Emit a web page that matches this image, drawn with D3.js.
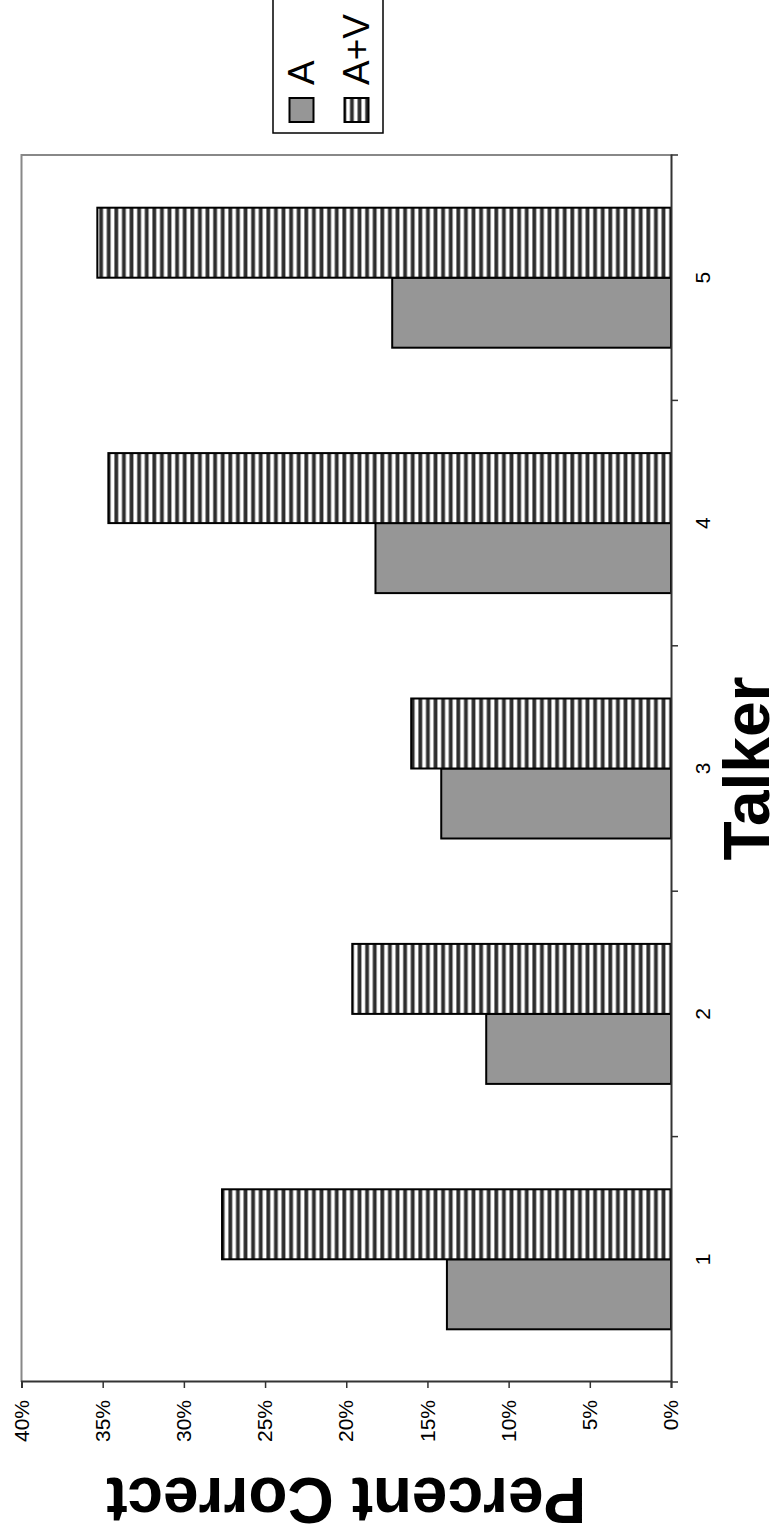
<!DOCTYPE html>
<html>
<head>
<meta charset="utf-8">
<script src="https://cdn.jsdelivr.net/npm/d3@7"></script>
<style>
  html, body { margin: 0; padding: 0; background: #fff; }
  svg { display: block; }
  text { font-family: "Liberation Sans", Arial, sans-serif; }
</style>
</head>
<body>
<svg id="chart" width="779" height="1536"></svg>
<script>
// ---- data ----
const categories = ["1", "2", "3", "4", "5"];
const seriesNames = ["A", "A+V"];
const valuesA  = [0.138, 0.1138, 0.1415, 0.182, 0.1717];
const valuesAV = [0.2765, 0.1963, 0.160, 0.3465, 0.3533];
const valueTicks = [0, 0.05, 0.10, 0.15, 0.20, 0.25, 0.30, 0.35, 0.40];
const xTitle = "Talker";
const yTitle = "Percent Correct";

// ---- layout (drawn in landscape, then rotated -90deg onto the portrait page) ----
const W = 1536, H = 779;
const plot = { left: 154, right: 1381, top: 21.5, bottom: 671 };

const svg = d3.select("#chart");
const defs = svg.append("defs");
const pat = defs.append("pattern")
  .attr("id", "stripes")
  .attr("patternUnits", "userSpaceOnUse")
  .attr("width", 10).attr("height", 7.6);
pat.append("rect").attr("width", 10).attr("height", 7.6).attr("fill", "#fff");
pat.append("rect").attr("y", 0.4).attr("width", 10).attr("height", 3.8).attr("fill", "#2e2e2e");

const g = svg.append("g").attr("transform", `translate(0,${W}) rotate(-90)`);

const p = 0.4295;
const x = d3.scaleBand().domain(categories)
  .range([plot.left, plot.right]).paddingInner(p).paddingOuter(p / 2);
const xs = d3.scaleBand().domain(seriesNames).range([0, x.bandwidth()]);
const y = d3.scaleLinear().domain([0, 0.4]).range([plot.bottom, plot.top]);

// plot area border (right & top, gray)
g.append("path")
  .attr("d", `M${plot.left},${plot.top}H${plot.right}V${plot.bottom}`)
  .attr("fill", "none").attr("stroke", "#888").attr("stroke-width", 2);

// bars
const rows = categories.map((c, i) => ({ c, A: valuesA[i], AV: valuesAV[i] }));
const fills = { "A": "#969696", "A+V": "url(#stripes)" };
rows.forEach(r => {
  [["A", r.A], ["A+V", r.AV]].forEach(([s, v]) => {
    g.append("rect")
      .attr("x", x(r.c) + xs(s))
      .attr("width", xs.bandwidth())
      .attr("y", y(v))
      .attr("height", y(0) - y(v))
      .attr("fill", fills[s])
      .attr("stroke", "#000")
      .attr("stroke-width", 2);
  });
});

// value axis (left in landscape)
const yAxis = d3.axisLeft(y).tickValues(valueTicks)
  .tickFormat(d3.format(".0%")).tickSize(6).tickPadding(12);
const ya = g.append("g").attr("transform", `translate(${plot.left},0)`).call(yAxis);
ya.select(".domain").attr("stroke", "#333").attr("stroke-width", 2);
ya.selectAll(".tick line").attr("stroke", "#333").attr("stroke-width", 1.5);
ya.selectAll(".tick text").attr("font-size", 21).attr("fill", "#000")
  .attr("font-family", "'Liberation Sans', Arial, sans-serif");

// category axis (bottom in landscape)
const xAxis = d3.axisBottom(x).tickSize(0).tickPadding(24);
const xa = g.append("g").attr("transform", `translate(0,${plot.bottom})`).call(xAxis);
xa.select(".domain").attr("stroke", "#333").attr("stroke-width", 2);
xa.selectAll(".tick text").attr("font-size", 21).attr("fill", "#000")
  .attr("font-family", "'Liberation Sans', Arial, sans-serif");
const step = x.step();
d3.range(categories.length + 1).forEach(i => {
  const bx = plot.left + i * step;
  g.append("line").attr("x1", bx).attr("x2", bx)
    .attr("y1", plot.bottom).attr("y2", plot.bottom + 7)
    .attr("stroke", "#333").attr("stroke-width", 1.5);
});

// titles
g.append("text").text(xTitle)
  .attr("x", (plot.left + plot.right) / 2).attr("y", 769)
  .attr("text-anchor", "middle").attr("font-size", 64).attr("font-weight", "bold");
g.append("text").text(yTitle)
  .attr("transform", `translate(58,${(plot.top + plot.bottom) / 2}) rotate(-90)`)
  .attr("text-anchor", "middle").attr("font-size", 64).attr("font-weight", "bold");

// legend
const lg = g.append("g");
lg.append("rect").attr("x", 1403).attr("y", 273).attr("width", 140).attr("height", 110)
  .attr("fill", "#fff").attr("stroke", "#000").attr("stroke-width", 1.5);
seriesNames.forEach((s, i) => {
  const yy = 289.5 + i * 55;
  lg.append("rect").attr("x", 1414).attr("y", yy).attr("width", 24).attr("height", 24)
    .attr("fill", fills[s]).attr("stroke", "#000").attr("stroke-width", 2);
  lg.append("text").text(s).attr("x", 1451).attr("y", yy + 24)
    .attr("font-size", 37);
});
</script>
</body>
</html>
